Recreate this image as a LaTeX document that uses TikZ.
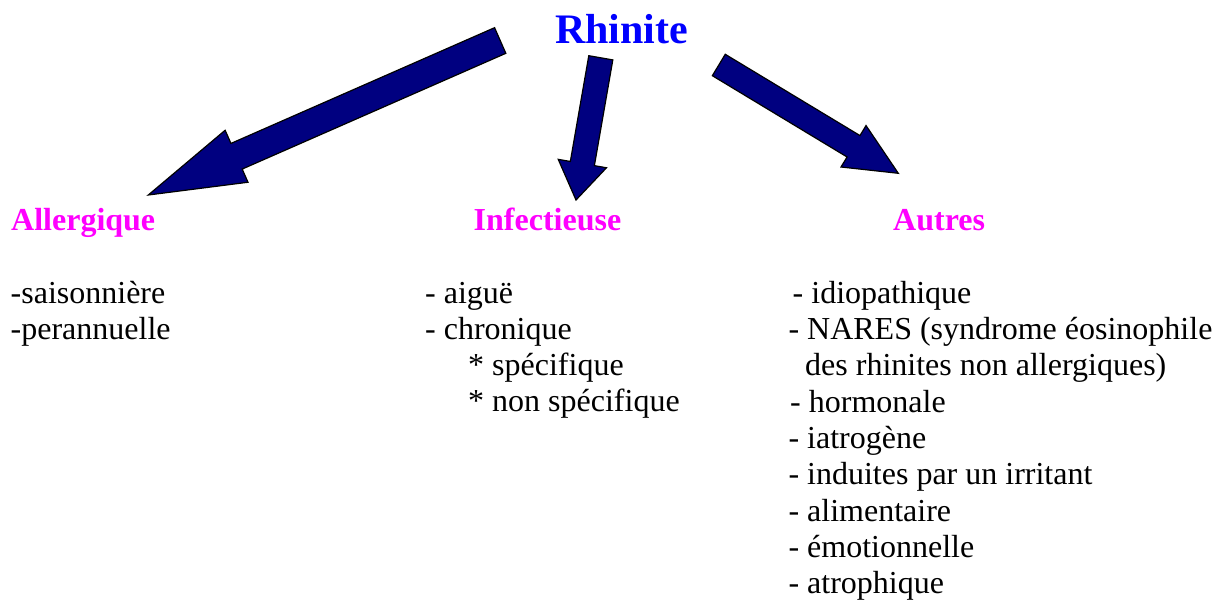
\documentclass[tikz,border=0pt]{standalone}
\usepackage{fontspec}
\setmainfont{Liberation Serif}
\usepackage{tikz}
\usetikzlibrary{calc,positioning}
\definecolor{NAVY}{RGB}{0,0,128}
\definecolor{TITLEBLUE}{RGB}{0,0,255}
\definecolor{HEADPINK}{RGB}{255,0,255}
\tikzstyle{TITLE} = [anchor=base west, inner sep=0pt, text=TITLEBLUE, font=\fontsize{42}{48}\selectfont\bfseries]
\tikzstyle{HEAD} = [anchor=base west, inner sep=0pt, text=HEADPINK, font=\fontsize{32}{36}\selectfont\bfseries]
\tikzstyle{ITEM} = [anchor=base west, inner sep=0pt, font=\fontsize{32}{36}\selectfont]
\tikzstyle{ARROW} = [fill=NAVY, draw=black, line width=1.2pt, line join=miter]
% block arrow: tail, tip, half shaft, half head, head length
\newcommand{\BIGARROW}[5]{%
  \path ($(#2)!#5!(#1)$) coordinate (hb);
  \filldraw[ARROW] ($(#1)!#3!90:(#2)$) -- ($(hb)!#3!90:(#2)$) -- ($(hb)!#4!90:(#2)$) -- (#2)
    -- ($(hb)!#4!-90:(#2)$) -- ($(hb)!#3!-90:(#2)$) -- ($(#1)!#3!-90:(#2)$) -- cycle;}
\begin{document}
\begin{tikzpicture}[x=1pt, y=-1pt]
\useasboundingbox (0,0) rectangle (1223,605);
% Place nodes
\node [TITLE] (rhinite) at (555,43.3) {Rhinite};
\node [HEAD] (allergique) at (11,230.7) {Allergique};
\node [HEAD] (infectieuse) at (473.5,230.7) {Infectieuse};
\node [HEAD] (autres) at (893,230.7) {Autres};
% Allergique
\node [ITEM] (a1) at (10.5,303.3) {-saisonnière};
\node [ITEM] (a2) at (10.5,339.3) {-perannuelle};
% Infectieuse
\node [ITEM] (b1) at (425,303.3) {- aiguë};
\node [ITEM] (b2) at (425,339.3) {- chronique};
\node [ITEM] (b3) at (468,375.3) {* spécifique};
\node [ITEM] (b4) at (468,411.6) {* non spécifique};
% Autres
\node [ITEM] (c1) at (792.5,303.3) {- idiopathique};
\node [ITEM] (c2) at (788.3,339.6) {- NARES (syndrome éosinophile};
\node [ITEM] (c3) at (805,375.9) {des rhinites non allergiques)};
\node [ITEM] (c4) at (790,412.2) {- hormonale};
\node [ITEM] (c5) at (788.3,448.5) {- iatrogène};
\node [ITEM] (c6) at (788.3,484.8) {- induites par un irritant};
\node [ITEM] (c7) at (788.3,521.1) {- alimentaire};
\node [ITEM] (c8) at (788.3,557.4) {- émotionnelle};
\node [ITEM] (c9) at (788.3,593.7) {- atrophique};
% ARROWS
\coordinate (l_tail) at (500.2,40.5);
\coordinate (l_tip) at (148.3,195);
\coordinate (m_tail) at (600.8,57.8);
\coordinate (m_tip) at (576,200);
\coordinate (r_tail) at (718.8,65);
\coordinate (r_tip) at (898.3,173.3);
\BIGARROW{l_tail}{l_tip}{14pt}{28.4pt}{96.4pt}
\BIGARROW{m_tail}{m_tip}{12.2pt}{24.5pt}{37pt}
\BIGARROW{r_tail}{r_tip}{12.5pt}{24.2pt}{52.3pt}
\end{tikzpicture}
\end{document}
